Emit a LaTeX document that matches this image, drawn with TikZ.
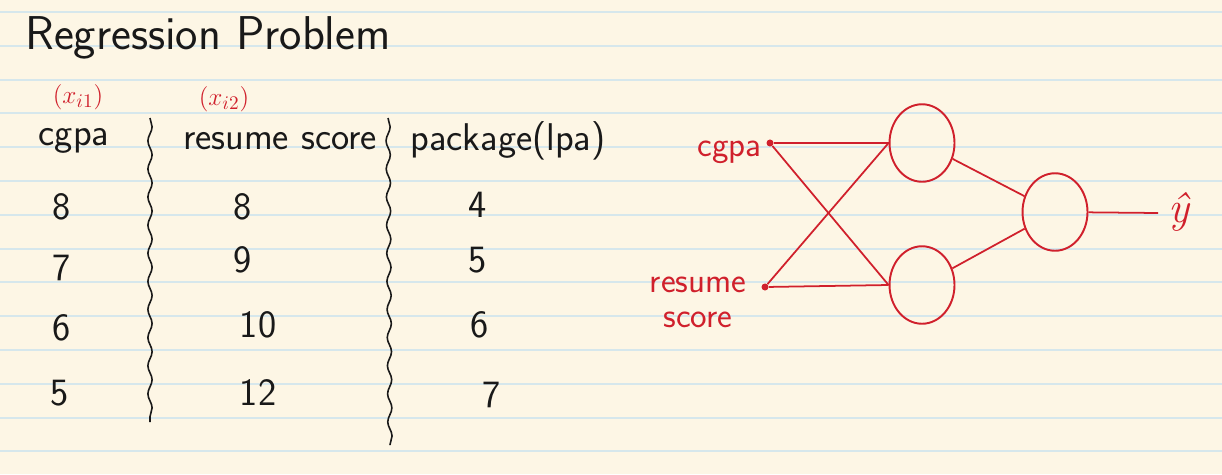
\documentclass[tikz,border=0pt]{standalone}
\usepackage{amsmath}
\usetikzlibrary{shapes.geometric,decorations.pathmorphing}
\definecolor{paper}{RGB}{253,246,229}
\definecolor{ruling}{RGB}{214,231,236}
\definecolor{ink}{RGB}{25,25,25}
\definecolor{pen}{RGB}{208,32,44}
\begin{document}
\begin{tikzpicture}[x=0.02cm, y=-0.02cm,
		every node/.style={font=\sffamily\fontsize{22}{25}\selectfont, text=ink, inner sep=0pt},
		neuron/.style={ellipse, draw=pen, line width=1.1pt, minimum width=1.3cm, minimum height=1.55cm},
		dot/.style={circle, fill=pen, minimum size=4pt},
		wire/.style={draw=pen, line width=1pt},
		divider/.style={draw=ink, line width=0.9pt, decorate, decoration={snake, amplitude=1.2pt, segment length=16pt}},
		note/.style={text=pen, font=\fontsize{15}{18}\selectfont},
		netlabel/.style={text=pen, font=\sffamily\fontsize{20}{22}\selectfont}
	]
	% paper
	\fill[paper] (0,0) rectangle (1222,474);
	\useasboundingbox (0,0) rectangle (1222,474);
	\foreach \k in {0,...,13}
		\draw[ruling, line width=1.2pt] (0,12+33.8*\k) -- (1222,12+33.8*\k);

	% title
	\node[anchor=west, font=\sffamily\fontsize{27}{30}\selectfont] (title) at (25,38) {Regression Problem};

	% table header
	\node[note] (xone) at (78,97) {$(x_{i1})$};
	\node[note] (xtwo) at (224,99) {$(x_{i2})$};
	\node (hcgpa) at (74,141) {cgpa};
	\node (hresume) at (280,141) {resume score};
	\node (hpackage) at (508,141) {package(lpa)};

	% dividers
	\coordinate (dAtop) at (150,118);
	\coordinate (dAbot) at (150,422);
	\coordinate (dBtop) at (388,118);
	\coordinate (dBbot) at (390,445);
	\draw[divider] (dAtop) -- (dAbot);
	\draw[divider] (dBtop) -- (dBbot);

	% rows
	\node (cA) at (62,207) {8};
	\node (cB) at (62,268) {7};
	\node (cC) at (62,328) {6};
	\node (cD) at (60,393) {5};
	\node (rA) at (243,207) {8};
	\node (rB) at (243,260) {9};
	\node (rC) at (258,325) {10};
	\node (rD) at (258,393) {12};
	\node (pA) at (478,205) {4};
	\node (pB) at (478,260) {5};
	\node (pC) at (480,325) {6};
	\node (pD) at (492,395) {7};

	% network
	\node[dot] (incgpa) at (770,143) {};
	\node[dot] (inresume) at (765,287) {};
	\node[netlabel, anchor=east] (lcgpa) at (762,152) {cgpa};
	\node[netlabel, align=center] (lresume) at (698,302) {resume\\[-2pt]score};
	\node[neuron] (hidA) at (922,143) {};
	\node[neuron] (hidB) at (922,285) {};
	\node[neuron] (outN) at (1055,212) {};
	\coordinate (yend) at (1158,213);
	\node[anchor=west, text=pen, font=\rmfamily\itshape\fontsize{25}{27}\selectfont] (yhat) at (1168,212) {ŷ};

	\draw[wire] (incgpa) -- (hidA.west);
	\draw[wire] (incgpa) -- (hidB.west);
	\draw[wire] (inresume) -- (hidA.west);
	\draw[wire] (inresume) -- (hidB.west);
	\draw[wire] (hidA) -- (outN);
	\draw[wire] (hidB) -- (outN);
	\draw[wire] (outN) -- (yend);
\end{tikzpicture}
\end{document}
